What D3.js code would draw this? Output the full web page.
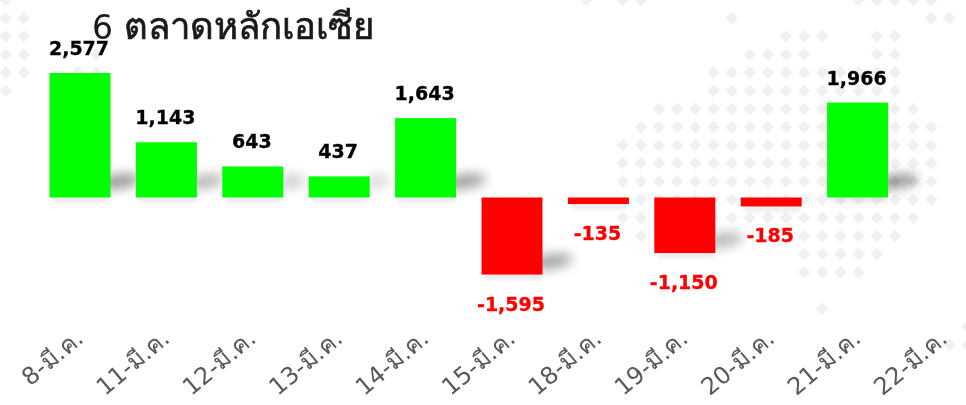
<!DOCTYPE html>
<html>
<head>
<meta charset="utf-8">
<script src="https://cdn.jsdelivr.net/npm/d3@7"></script>
<style>
  html, body { margin: 0; padding: 0; background: #fff; overflow: hidden; }
  text { font-family: "DejaVu Sans", "Noto Sans", sans-serif; }
</style>
</head>
<body>
<div id="chart"></div>
<script>
const titleLead = "6 ";
const titleThai = "ตลาดหลักเอเซีย";
const days = ["8-มี.ค.", "11-มี.ค.", "12-มี.ค.", "13-มี.ค.", "14-มี.ค.", "15-มี.ค.", "18-มี.ค.", "19-มี.ค.", "20-มี.ค.", "21-มี.ค.", "22-มี.ค."];
const values = [2577, 1143, 643, 437, 1643, -1595, -135, -1150, -185, 1966, null];

// background dot map: row, first column, last column
const dotRuns = [
  [0, -34, -34], [0, -2, -2], [0, 0, 1], [0, 13, 17],
  [1, -34, -33], [1, 6, 6], [1, 17, 18],
  [2, -34, -33], [2, 9, 11], [2, 14, 15],
  [3, -34, -33], [3, -29, -29], [3, 7, 10], [3, 14, 15],
  [4, -34, -33], [4, -30, -29], [4, 5, 15],
  [5, -34, -34], [5, 5, 15],
  [6, 2, 16],
  [7, 1, 17],
  [8, 0, 17],
  [9, 0, 17],
  [10, 0, 17],
  [11, 1, 17],
  [12, 0, 16],
  [13, 1, 1], [13, 10, 15],
  [14, 10, 14],
  [15, 10, 13],
  [17, 11, 11],
  [18, 19, 19],
  [19, 18, 19]
];

const width = 966;
const height = 405;

const svg = d3
  .select("#chart")
  .append("svg")
  .attr("width", width)
  .attr("height", height);

const defs = svg.append("defs");
defs.append("filter").attr("id", "soft")
  .append("feGaussianBlur").attr("stdDeviation", 0.6);
defs.append("filter").attr("id", "shade")
  .attr("x", "-100%").attr("y", "-200%").attr("width", "300%").attr("height", "500%")
  .append("feGaussianBlur").attr("stdDeviation", 6);
defs.append("filter").attr("id", "under")
  .attr("x", "-20%").attr("y", "-200%").attr("width", "140%").attr("height", "500%")
  .append("feGaussianBlur").attr("stdDeviation", 2.2);

// dots
const dotX = d3.scaleLinear().domain([0, 18]).range([622.7, 949.4]);
const dotY = d3.scaleLinear().domain([0, 19]).range([0, 344.8]);
const dots = dotRuns.flatMap(([row, from, to]) =>
  d3.range(from, to + 1).map((col) => ({ row, col }))
);
svg
  .append("g")
  .attr("filter", "url(#soft)")
  .selectAll("path")
  .data(dots)
  .enter()
  .append("path")
  .attr("d", d3.symbol(d3.symbolSquare, 78))
  .attr("transform", (d) => `translate(${dotX(d.col)},${dotY(d.row)}) rotate(45)`)
  .attr("fill", "#f0f0f0");

const x = d3.scaleBand().domain(days).range([49.5, 974.5]).paddingInner(0.294).paddingOuter(0);
const y = d3.scaleLinear().domain([0, 2577]).range([197.5, 73]);

const bars = days
  .map((day, i) => ({ day, value: values[i] }))
  .filter((d) => d.value !== null);

// soft shadows behind the bars
const shadows = svg.append("g");
shadows
  .selectAll("rect")
  .data(bars)
  .enter()
  .append("rect")
  .attr("x", (d) => x(d.day) + 3)
  .attr("y", (d) => (d.value > 0 ? y(0) : y(d.value)) - 1)
  .attr("width", x.bandwidth() - 4)
  .attr("height", 6)
  .attr("fill", "#000")
  .attr("opacity", 0.08)
  .attr("filter", "url(#under)");

const shadeX = (d) => x(d.day) + x.bandwidth() + 8;
const shadeY = (d) => (d.value > 0 ? y(0) - 16 : y(d.value) - 13);

shadows
  .selectAll("ellipse")
  .data(bars.filter((d) => Math.abs(d.value) > 400))
  .enter()
  .append("ellipse")
  .attr("cx", shadeX)
  .attr("cy", shadeY)
  .attr("rx", (d) => Math.min(22, 7 + Math.abs(d.value) / 90))
  .attr("ry", 7)
  .attr("fill", "#000")
  .attr("opacity", (d) => Math.min(0.42, 0.06 + Math.abs(d.value) / 5000))
  .attr("filter", "url(#shade)")
  .attr("transform", (d) => `rotate(-8,${shadeX(d)},${shadeY(d)})`);

const titleText = svg
  .append("text")
  .attr("x", 92)
  .attr("y", 39)
  .attr("fill", "#1a1a1a");
titleText.append("tspan").attr("font-size", 33).text(titleLead);
titleText
  .append("tspan")
  .attr("font-size", 36.5)
  .attr("stroke", "#1a1a1a")
  .attr("stroke-width", 0.7)
  .text(titleThai);

svg
  .append("g")
  .selectAll("rect")
  .data(bars)
  .enter()
  .append("rect")
  .attr("x", (d) => x(d.day))
  .attr("y", (d) => y(Math.max(d.value, 0)))
  .attr("width", x.bandwidth())
  .attr("height", (d) => Math.abs(y(d.value) - y(0)))
  .attr("fill", (d) => (d.value > 0 ? "#00ff00" : "#ff0000"));

svg
  .append("g")
  .selectAll("text")
  .data(bars)
  .enter()
  .append("text")
  .attr("x", (d) => x(d.day) + x.bandwidth() / 2 - 1)
  .attr("y", (d) => (d.value > 0 ? y(d.value) - 18 : y(d.value) + 36))
  .attr("text-anchor", "middle")
  .attr("font-size", 19)
  .attr("font-weight", "bold")
  .attr("stroke", (d) => (d.value > 0 ? "#000" : "#ff0000"))
  .attr("stroke-width", 0.3)
  .attr("fill", (d) => (d.value > 0 ? "#000" : "#ff0000"))
  .text((d) => d3.format(",")(d.value).replace("−", "-"));

const xAxis = svg
  .append("g")
  .attr("transform", "translate(0,330)")
  .call(d3.axisBottom(x).tickSize(0));
xAxis.select(".domain").remove();
xAxis
  .selectAll("text")
  .attr("font-size", 24)
  .attr("fill", "#595959")
  .style("font-family", '"DejaVu Sans", "Noto Sans", sans-serif')
  .attr("text-anchor", "end")
  .attr("dy", "0.7em")
  .attr("y", 0)
  .attr("transform", "translate(-6,-2) rotate(-40)");
</script>
</body>
</html>
